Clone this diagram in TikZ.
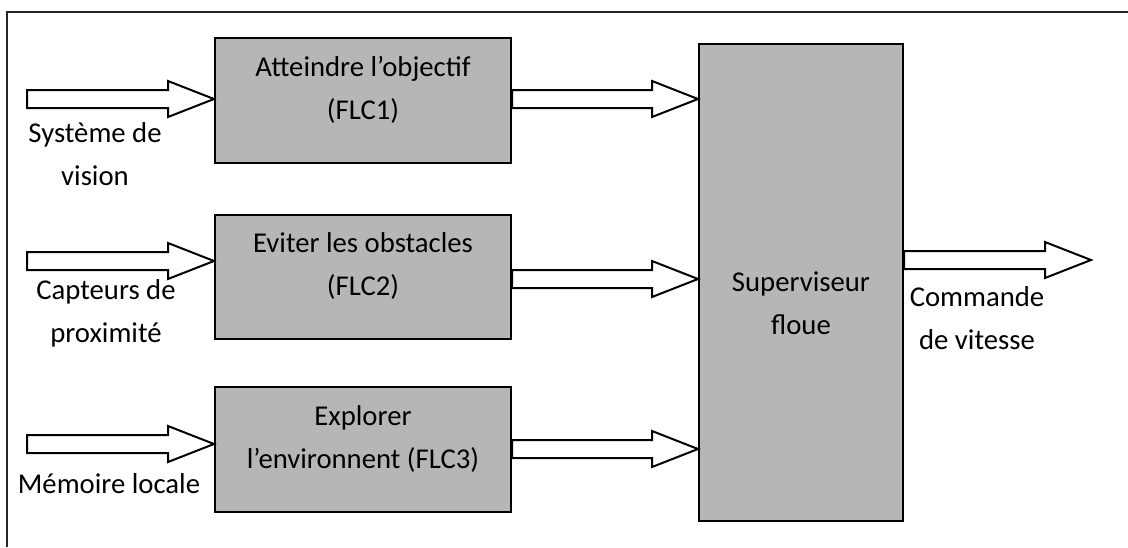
\documentclass[tikz,border=0pt]{standalone}
\usepackage{fontspec}
\setmainfont{Carlito}
\usetikzlibrary{calc}
\definecolor{boxgray}{RGB}{182,182,182}
\tikzset{
  blockbox/.style={draw=black, line width=2pt, fill=boxgray, inner sep=0pt},
  barrow/.style={draw=black, line width=2pt, fill=white, line join=miter},
  frame/.style={draw=black!85, line width=1.6pt},
  lbl/.style={align=center, anchor=base, inner sep=0pt, font=\fontsize{28.7}{43}\selectfont}
}
\newcommand\blockarrow[2]{\draw[barrow] let \p1=(#1), \p2=(#2) in
  (\x1,\y1+9pt) -- (\x2-46pt,\y1+9pt) -- (\x2-46pt,\y1+18pt) -- (\x2,\y1)
  -- (\x2-46pt,\y1-18pt) -- (\x2-46pt,\y1-9pt) -- (\x1,\y1-9pt) -- cycle;}
\begin{document}
\begin{tikzpicture}[x=1pt,y=-1pt]
\useasboundingbox (0,0) rectangle (1128,547);
\draw[frame] (7,547) -- (7,12) -- (1128,12);
% boxes
\node[blockbox, minimum width=296pt, minimum height=125pt] (b1) at (363,100.5) {};
\node[blockbox, minimum width=296pt, minimum height=124pt] (b2) at (363,277) {};
\node[blockbox, minimum width=296pt, minimum height=125pt] (b3) at (363,449.5) {};
\node[blockbox, minimum width=204pt, minimum height=477pt] (sup) at (801,282.5) {};
% box texts (anchor = baseline of last line)
\node[lbl] (t1) at (363,119) {Atteindre l’objectif\\(FLC1)};
\node[lbl] (t2) at (363,295) {Eviter les obstacles\\(FLC2)};
\node[lbl] (t3) at (363,468) {Explorer\\l’environnent (FLC3)};
\node[lbl] (ts) at (801,334) {Superviseur\\floue};
% coordinates
\coordinate (s1) at (27,99);
\coordinate (s2) at (27,261);
\coordinate (s3) at (27,444);
\coordinate (y1o) at (0,99);
\coordinate (y2o) at (0,279);
\coordinate (y3o) at (0,449);
\coordinate (yout) at (0,260);
\coordinate (cmd) at (1091,260);
% input arrows
\blockarrow{s1}{b1.west |- s1}
\blockarrow{s2}{b2.west |- s2}
\blockarrow{s3}{b3.west |- s3}
% output arrows
\blockarrow{b1.east |- y1o}{sup.west |- y1o}
\blockarrow{b2.east |- y2o}{sup.west |- y2o}
\blockarrow{b3.east |- y3o}{sup.west |- y3o}
\blockarrow{sup.east |- yout}{cmd}
% labels
\node[lbl] (l1) at (95,185) {Système de\\vision};
\node[lbl] (l2) at (106,342) {Capteurs de\\proximité};
\node[lbl] (l3) at (109,493) {Mémoire locale};
\node[lbl] (l4) at (977,349) {Commande\\de vitesse};
\end{tikzpicture}
\end{document}
